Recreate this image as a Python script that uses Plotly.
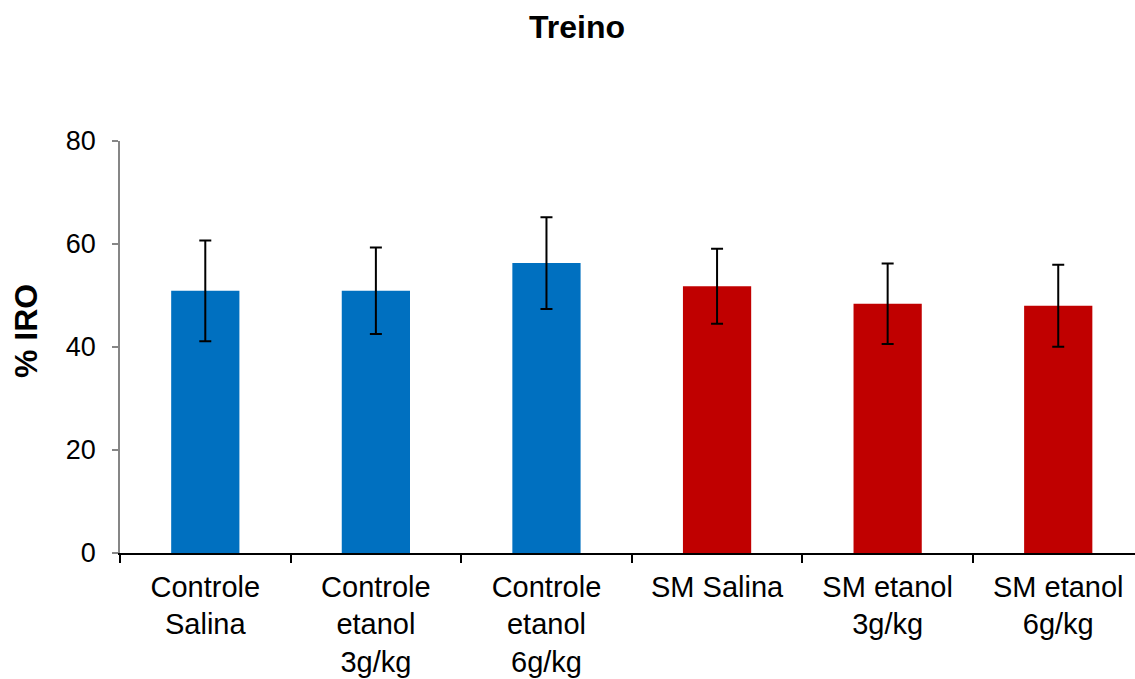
import plotly.graph_objects as go

categories = ["Controle<br>Salina", "Controle<br>etanol<br>3g/kg", "Controle<br>etanol<br>6g/kg",
              "SM Salina", "SM etanol<br>3g/kg", "SM etanol<br>6g/kg"]
means = [50.9, 50.9, 56.3, 51.8, 48.4, 48.0]
errors = [9.8, 8.4, 8.9, 7.3, 7.8, 7.95]
colors = ["#0070C0", "#0070C0", "#0070C0", "#C00000", "#C00000", "#C00000"]
yticks = [0, 20, 40, 60, 80]

fig = go.Figure()
fig.add_trace(go.Bar(
    x=categories, y=means, width=0.4,
    marker=dict(color=colors, line=dict(width=0)),
    error_y=dict(type="data", array=errors, visible=True, color="black", thickness=2, width=6),
))

fig.update_layout(
    width=1135, height=679,
    margin=dict(l=120, r=0, t=141, b=126),
    paper_bgcolor="white", plot_bgcolor="white",
    showlegend=False,
    font=dict(family="Liberation Sans, Arial, sans-serif", color="black"),
    title=dict(text="<b>Treino</b>", x=577/1135, xanchor="center", y=1 - 27/679, yanchor="middle",
               font=dict(size=32, color="black")),
    xaxis=dict(type="category", range=[-0.5, 5.45], showline=True, linecolor="black", linewidth=1.5,
               ticks="outside", tickson="boundaries", ticklen=8, tickcolor="black", tickwidth=1.5,
               tickfont=dict(size=29, color="black"), ticklabelstandoff=7, automargin=False,
               showgrid=False, zeroline=False),
    yaxis=dict(range=[0, 80], tickvals=yticks, showline=True, linecolor="#868686", linewidth=1.5,
               ticks="outside", ticklen=6, tickcolor="#868686", tickwidth=1.5,
               tickfont=dict(size=27, color="black"), ticklabelstandoff=11, automargin=False,
               showgrid=False, zeroline=False),
    annotations=[dict(text="<b>% IRO</b>", xref="paper", yref="paper", x=-120/1015 + 26/1015, y=(553 - 331) / 412,
                      xanchor="center", yanchor="middle", textangle=-90, showarrow=False,
                      font=dict(size=32, color="black"))],
)

fig.write_html("out.html")
